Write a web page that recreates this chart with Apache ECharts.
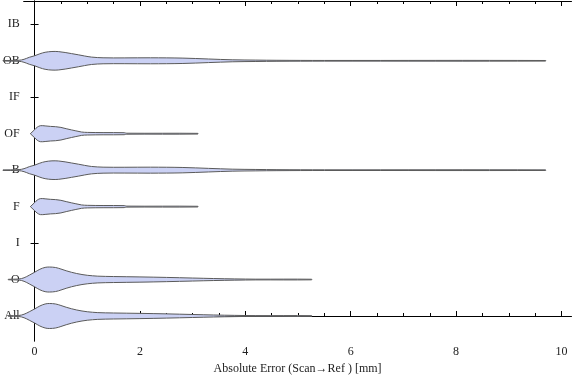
<!DOCTYPE html>
<html><head><meta charset="utf-8">
<script src="https://cdn.jsdelivr.net/npm/echarts@6/dist/echarts.min.js"></script>
<style>html,body{margin:0;padding:0;background:#fff}#c{width:576px;height:381px}</style>
</head><body><div id="c"></div>
<script>
// Categories (bottom to top)
const categories = ['All', 'O', 'I', 'F', 'B', 'OF', 'IF', 'OB', 'IB'];
// X axis tick values
const xMajorTicks = [0, 2, 4, 6, 8, 10];
const xMinorTicks = [0.5, 1, 1.5, 2.5, 3, 3.5, 4.5, 5, 5.5, 6.5, 7, 7.5, 8.5, 9, 9.5];
const yTicks = [0, 1, 2, 3, 4, 5, 6, 7, 8];

// Violin profiles: error values (mm) and relative density (All peak = 1)
const allErr = [-0.5, -0.3, -0.2, -0.1, 0, 0.1, 0.2, 0.28, 0.4, 0.5, 0.6, 0.7, 0.8, 0.9, 1.0, 1.2, 1.5, 2.0, 2.5, 3.0, 3.4, 3.8, 4.2, 5.26];
const allDen = [0.02, 0.04, 0.14, 0.34, 0.56, 0.8, 0.96, 1.0, 0.96, 0.84, 0.7, 0.58, 0.48, 0.4, 0.34, 0.27, 0.24, 0.21, 0.17, 0.12, 0.08, 0.05, 0.03, 0.024];

const oErr = [-0.5, -0.3, -0.2, -0.1, 0, 0.1, 0.2, 0.28, 0.4, 0.5, 0.6, 0.7, 0.8, 0.9, 1.0, 1.2, 1.5, 2.0, 2.5, 3.0, 3.4, 3.8, 4.2, 5.26];
const oDen = [0.02, 0.04, 0.14, 0.35, 0.58, 0.82, 0.97, 1.0, 0.96, 0.84, 0.7, 0.58, 0.48, 0.4, 0.34, 0.27, 0.24, 0.21, 0.17, 0.12, 0.08, 0.05, 0.03, 0.024];

const fErr = [-0.08, 0, 0.05, 0.11, 0.2, 0.3, 0.4, 0.5, 0.6, 0.7, 0.77, 0.89, 1.0, 1.3, 1.7, 1.75, 3.1];
const fDen = [0, 0.32, 0.52, 0.64, 0.624, 0.584, 0.56, 0.504, 0.4, 0.304, 0.24, 0.136, 0.104, 0.088, 0.08, 0.04, 0.028];

const bErr = [-0.6, -0.3, -0.2, -0.1, 0, 0.1, 0.2, 0.33, 0.45, 0.58, 0.7, 0.83, 0.95, 1.08, 1.3, 1.7, 2.2, 2.8, 3.3, 3.75, 4.2, 4.6, 5.5, 9.7];
const bDen = [0.02, 0.04, 0.12, 0.28, 0.4, 0.56, 0.68, 0.744, 0.736, 0.664, 0.576, 0.48, 0.384, 0.296, 0.24, 0.232, 0.24, 0.216, 0.144, 0.08, 0.056, 0.04, 0.028, 0.024];

const ofErr = [-0.08, 0, 0.05, 0.11, 0.2, 0.3, 0.4, 0.5, 0.6, 0.7, 0.77, 0.89, 1.0, 1.3, 1.7, 1.75, 3.1];
const ofDen = [0, 0.32, 0.52, 0.64, 0.624, 0.584, 0.56, 0.504, 0.4, 0.304, 0.24, 0.136, 0.104, 0.088, 0.08, 0.04, 0.028];

const obErr = [-0.6, -0.3, -0.2, -0.1, 0, 0.1, 0.2, 0.33, 0.45, 0.58, 0.7, 0.83, 0.95, 1.08, 1.3, 1.7, 2.2, 2.8, 3.3, 3.75, 4.2, 4.6, 5.5, 9.7];
const obDen = [0.02, 0.04, 0.12, 0.28, 0.4, 0.56, 0.68, 0.744, 0.736, 0.664, 0.576, 0.48, 0.384, 0.296, 0.24, 0.232, 0.24, 0.216, 0.144, 0.08, 0.056, 0.04, 0.028, 0.024];

const violins = [
  { cat: 'All', err: allErr, den: allDen },
  { cat: 'O', err: oErr, den: oDen },
  { cat: 'F', err: fErr, den: fDen },
  { cat: 'B', err: bErr, den: bDen },
  { cat: 'OF', err: ofErr, den: ofDen },
  { cat: 'OB', err: obErr, den: obDen }
];
const WIDTH_SCALE = 0.343; // category units per unit density

const chart = echarts.init(document.getElementById('c'), null, { renderer: 'canvas' });
const font = '"Liberation Serif", "DejaVu Serif", serif';
const X_MIN = -0.207, X_MAX = 10.19, Y_MIN = -0.686, Y_MAX = 8.64;

function xAx(pos, ticks, len, labels, line) {
  return {
    type: 'value', position: pos, min: X_MIN, max: X_MAX,
    axisLine: { show: line, lineStyle: { color: '#000', width: 1 } },
    axisTick: { show: true, inside: true, length: len, customValues: ticks, lineStyle: { color: '#000', width: 1 } },
    axisLabel: labels ? { show: true, customValues: ticks, margin: 5, color: '#222', fontFamily: font, fontSize: 12 } : { show: false },
    splitLine: { show: false }
  };
}
const xAxes = [
  xAx('bottom', xMajorTicks, 5, true, true),
  xAx('bottom', xMinorTicks, 3, false, false),
  xAx('top', xMajorTicks, 5, false, true),
  xAx('top', xMinorTicks, 3, false, false)
];
xAxes[0].name = 'Absolute Error (Scan\u2192Ref ) [mm]';
xAxes[0].nameLocation = 'middle';
xAxes[0].nameGap = 22;
xAxes[0].nameTextStyle = { color: '#222', fontFamily: font, fontSize: 12 };

function yAx(pos, labels) {
  return {
    type: 'value', position: pos, min: Y_MIN, max: Y_MAX,
    axisLine: { show: true, lineStyle: { color: '#000', width: 1 } },
    axisTick: { show: true, inside: true, length: 4, customValues: yTicks, lineStyle: { color: '#000', width: 1 } },
    axisLabel: labels ? { show: true, customValues: yTicks, margin: 4, color: '#222', fontFamily: font, fontSize: 12,
      formatter: v => categories[Math.round(v)] } : { show: false },
    splitLine: { show: false }
  };
}

chart.setOption({
  animation: false,
  grid: { left: 20, right: 4.5, top: 1, bottom: 40, containLabel: false },
  xAxis: xAxes,
  yAxis: [yAx('left', true), yAx('right', false)],
  series: [{
    type: 'custom',
    xAxisIndex: 0, yAxisIndex: 0,
    clip: false,
    data: violins.map((v, i) => [i]),
    renderItem: function (params, api) {
      const v = violins[params.dataIndex];
      const c = categories.indexOf(v.cat);
      const top = [], bot = [];
      for (let k = 0; k < v.err.length; k++) {
        const w = v.den[k] * WIDTH_SCALE;
        top.push(api.coord([v.err[k], c + w]));
        bot.push(api.coord([v.err[k], c - w]));
      }
      const pts = top.concat(bot.reverse());
      return {
        type: 'polygon',
        shape: { points: pts, smooth: 0.35 },
        style: { fill: '#cbd1f4', stroke: '#5a5a5a', lineWidth: 1 }
      };
    }
  }]
});
</script></body></html>
